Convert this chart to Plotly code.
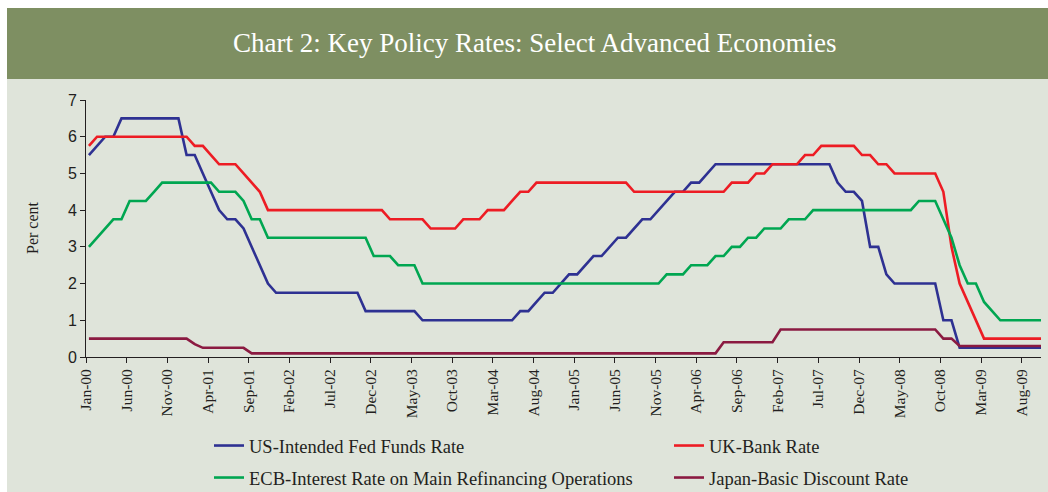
import pandas as pd
import plotly.graph_objects as go

# ---- data (monthly, Jan-2000 .. Oct-2009) ----
months = pd.date_range("2000-01-01", "2009-10-01", freq="MS").strftime("%b-%y").tolist()

us_fed = [
    5.5, 5.75, 6.0, 6.0, 6.5, 6.5, 6.5, 6.5, 6.5, 6.5, 6.5, 6.5,            # 2000
    5.5, 5.5, 5.0, 4.5, 4.0, 3.75, 3.75, 3.5, 3.0, 2.5, 2.0, 1.75,         # 2001
    1.75, 1.75, 1.75, 1.75, 1.75, 1.75, 1.75, 1.75, 1.75, 1.75, 1.25, 1.25, # 2002
    1.25, 1.25, 1.25, 1.25, 1.25, 1.0, 1.0, 1.0, 1.0, 1.0, 1.0, 1.0,       # 2003
    1.0, 1.0, 1.0, 1.0, 1.0, 1.25, 1.25, 1.5, 1.75, 1.75, 2.0, 2.25,       # 2004
    2.25, 2.5, 2.75, 2.75, 3.0, 3.25, 3.25, 3.5, 3.75, 3.75, 4.0, 4.25,    # 2005
    4.5, 4.5, 4.75, 4.75, 5.0, 5.25, 5.25, 5.25, 5.25, 5.25, 5.25, 5.25,   # 2006
    5.25, 5.25, 5.25, 5.25, 5.25, 5.25, 5.25, 5.25, 4.75, 4.5, 4.5, 4.25,  # 2007
    3.0, 3.0, 2.25, 2.0, 2.0, 2.0, 2.0, 2.0, 2.0, 1.0, 1.0, 0.25,          # 2008
    0.25, 0.25, 0.25, 0.25, 0.25, 0.25, 0.25, 0.25, 0.25, 0.25,            # 2009
]
uk_bank = [
    5.75, 6.0, 6.0, 6.0, 6.0, 6.0, 6.0, 6.0, 6.0, 6.0, 6.0, 6.0,
    6.0, 5.75, 5.75, 5.5, 5.25, 5.25, 5.25, 5.0, 4.75, 4.5, 4.0, 4.0,
    4.0, 4.0, 4.0, 4.0, 4.0, 4.0, 4.0, 4.0, 4.0, 4.0, 4.0, 4.0,
    4.0, 3.75, 3.75, 3.75, 3.75, 3.75, 3.5, 3.5, 3.5, 3.5, 3.75, 3.75,
    3.75, 4.0, 4.0, 4.0, 4.25, 4.5, 4.5, 4.75, 4.75, 4.75, 4.75, 4.75,
    4.75, 4.75, 4.75, 4.75, 4.75, 4.75, 4.75, 4.5, 4.5, 4.5, 4.5, 4.5,
    4.5, 4.5, 4.5, 4.5, 4.5, 4.5, 4.5, 4.75, 4.75, 4.75, 5.0, 5.0,
    5.25, 5.25, 5.25, 5.25, 5.5, 5.5, 5.75, 5.75, 5.75, 5.75, 5.75, 5.5,
    5.5, 5.25, 5.25, 5.0, 5.0, 5.0, 5.0, 5.0, 5.0, 4.5, 3.0, 2.0,
    1.5, 1.0, 0.5, 0.5, 0.5, 0.5, 0.5, 0.5, 0.5, 0.5,
]
ecb_mro = [
    3.0, 3.25, 3.5, 3.75, 3.75, 4.25, 4.25, 4.25, 4.5, 4.75, 4.75, 4.75,
    4.75, 4.75, 4.75, 4.75, 4.5, 4.5, 4.5, 4.25, 3.75, 3.75, 3.25, 3.25,
    3.25, 3.25, 3.25, 3.25, 3.25, 3.25, 3.25, 3.25, 3.25, 3.25, 3.25, 2.75,
    2.75, 2.75, 2.5, 2.5, 2.5, 2.0, 2.0, 2.0, 2.0, 2.0, 2.0, 2.0,
    2.0, 2.0, 2.0, 2.0, 2.0, 2.0, 2.0, 2.0, 2.0, 2.0, 2.0, 2.0,
    2.0, 2.0, 2.0, 2.0, 2.0, 2.0, 2.0, 2.0, 2.0, 2.0, 2.0, 2.25,
    2.25, 2.25, 2.5, 2.5, 2.5, 2.75, 2.75, 3.0, 3.0, 3.25, 3.25, 3.5,
    3.5, 3.5, 3.75, 3.75, 3.75, 4.0, 4.0, 4.0, 4.0, 4.0, 4.0, 4.0,
    4.0, 4.0, 4.0, 4.0, 4.0, 4.0, 4.25, 4.25, 4.25, 3.75, 3.25, 2.5,
    2.0, 2.0, 1.5, 1.25, 1.0, 1.0, 1.0, 1.0, 1.0, 1.0,
]
japan_disc = [
    0.5, 0.5, 0.5, 0.5, 0.5, 0.5, 0.5, 0.5, 0.5, 0.5, 0.5, 0.5,
    0.5, 0.35, 0.25, 0.25, 0.25, 0.25, 0.25, 0.25, 0.1, 0.1, 0.1, 0.1,
    0.1, 0.1, 0.1, 0.1, 0.1, 0.1, 0.1, 0.1, 0.1, 0.1, 0.1, 0.1,
    0.1, 0.1, 0.1, 0.1, 0.1, 0.1, 0.1, 0.1, 0.1, 0.1, 0.1, 0.1,
    0.1, 0.1, 0.1, 0.1, 0.1, 0.1, 0.1, 0.1, 0.1, 0.1, 0.1, 0.1,
    0.1, 0.1, 0.1, 0.1, 0.1, 0.1, 0.1, 0.1, 0.1, 0.1, 0.1, 0.1,
    0.1, 0.1, 0.1, 0.1, 0.1, 0.1, 0.4, 0.4, 0.4, 0.4, 0.4, 0.4,
    0.4, 0.75, 0.75, 0.75, 0.75, 0.75, 0.75, 0.75, 0.75, 0.75, 0.75, 0.75,
    0.75, 0.75, 0.75, 0.75, 0.75, 0.75, 0.75, 0.75, 0.75, 0.5, 0.5, 0.3,
    0.3, 0.3, 0.3, 0.3, 0.3, 0.3, 0.3, 0.3, 0.3, 0.3,
]
series_names = [
    "US-Intended Fed Funds Rate",
    "UK-Bank Rate",
    "ECB-Interest Rate on Main Refinancing Operations",
    "Japan-Basic Discount Rate",
]
title_text = "Chart 2: Key Policy Rates: Select Advanced Economies"
y_title = "Per cent"

# ---- layout geometry (pixels) ----
W, H = 1048, 492
PL, PR, PT, PB = 86, 1041, 100, 357   # plot area edges


def px_x(px):
    return (px - PL) / (PR - PL)


def px_y(py):
    return (PB - py) / (PB - PT)


x_idx = list(range(len(months)))
tick_offset = 0.36
tickvals = [i - tick_offset for i in x_idx[::5]]
ticktext = months[::5]

colors = ["#2e3192", "#ed1c24", "#00a651", "#8b1a41"]
series = [us_fed, uk_bank, ecb_mro, japan_disc]
legend_ids = ["legend", "legend2", "legend3", "legend4"]
legend_pos = [(209, 446), (669, 446), (209, 478), (669, 478)]

panel = "#dfe4da"
band = "#7e8f62"
ink = "#231f20"
serif = "Liberation Serif"

fig = go.Figure()
for name, vals, col, lg in zip(series_names, series, colors, legend_ids):
    fig.add_trace(go.Scatter(
        x=x_idx, y=vals, mode="lines", name=name,
        line=dict(color=col, width=2.6), legend=lg,
    ))

legend_layout = {}
for lg, (lx, ly) in zip(legend_ids, legend_pos):
    legend_layout[lg] = dict(
        orientation="h", x=px_x(lx), y=px_y(ly), xanchor="left", yanchor="middle",
        bgcolor="rgba(0,0,0,0)", borderwidth=0,
        font=dict(family=serif, size=18.5, color=ink),
    )

fig.update_layout(
    width=W, height=H,
    margin=dict(l=PL, r=W - PR, t=PT, b=H - PB, pad=0, autoexpand=False),
    paper_bgcolor="white",
    plot_bgcolor=panel,
    showlegend=True,
    xaxis=dict(
        range=[-tick_offset, x_idx[-1]], tickmode="array", tickvals=tickvals, ticktext=ticktext,
        tickangle=-90, showline=True, linecolor=ink, linewidth=1, ticks="outside",
        ticklen=5, tickcolor=ink, showgrid=False, zeroline=False,
        tickfont=dict(family=serif, size=15.5, color=ink),
    ),
    yaxis=dict(
        range=[0, 7], dtick=1, showline=True, linecolor=ink, linewidth=1, ticks="outside",
        ticklen=5, tickcolor=ink, showgrid=False, zeroline=False,
        tickfont=dict(family="Liberation Sans", size=16, color=ink),
    ),
    shapes=[
        dict(type="rect", xref="paper", yref="paper", x0=px_x(7), x1=px_x(1048),
             y0=px_y(492), y1=px_y(79), fillcolor=panel, line=dict(width=0), layer="below"),
        dict(type="rect", xref="paper", yref="paper", x0=px_x(7), x1=px_x(1048),
             y0=px_y(79), y1=px_y(8), fillcolor=band, line=dict(width=0), layer="below"),
    ],
    annotations=[
        dict(text=title_text, xref="paper", yref="paper", x=px_x(535), y=px_y(43),
             xanchor="center", yanchor="middle", showarrow=False,
             font=dict(family=serif, size=27, color="white")),
        dict(text=y_title, xref="paper", yref="paper", x=px_x(32), y=px_y(228),
             xanchor="center", yanchor="middle", showarrow=False, textangle=-90,
             font=dict(family=serif, size=16, color=ink)),
    ],
)
fig.update_layout(**legend_layout)

fig.write_html("out.html", config={"displayModeBar": False},
               post_script="document.body.style.margin='0';")
